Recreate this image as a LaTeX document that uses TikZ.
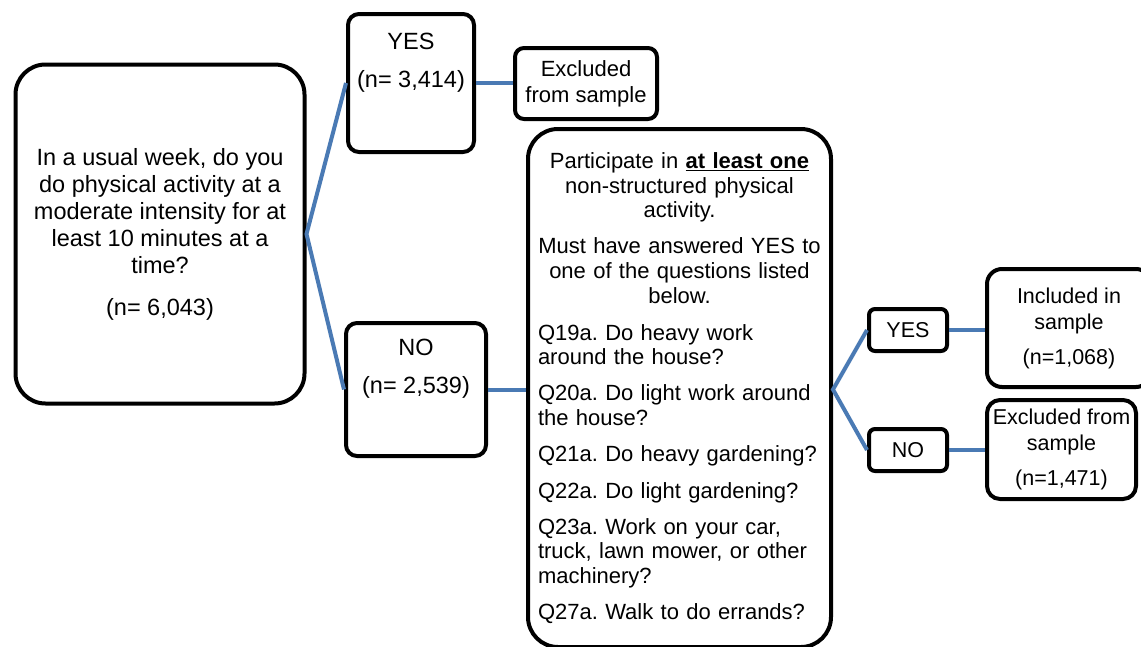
\documentclass[tikz,border=0pt]{standalone}
\usepackage{fontspec}
\setmainfont{Liberation Sans}
\frenchspacing
\definecolor{linkblue}{RGB}{74,122,180}
\begin{document}
\begin{tikzpicture}[x=1pt,y=1pt,
  box/.style={draw=black, line width=4pt, fill=white, align=center, inner sep=0pt, text=black},
  conn/.style={draw=linkblue, line width=4pt},
  fmain/.style={font=\fontsize{23.5}{27}\selectfont},
  fmid/.style={font=\fontsize{22}{24.7}\selectfont},
  fsmall/.style={font=\fontsize{21.5}{26}\selectfont}]
\clip (0,0) rectangle (1141,-646);
\fill[white] (0,0) rectangle (1141,-646);

\node[box, fmain, rounded corners=30pt, minimum width=289pt, minimum height=339pt] (q) at (160,-234)
  {In a usual week, do you\\ do physical activity at a\\ moderate intensity for at\\ least 10 minutes at a\\ time?\\[15pt] (n= 6,043)};

\node[box, fmain, rounded corners=11pt, minimum width=126pt, minimum height=138pt] (yes1) at (411,-83)
  {YES\\[11pt](n= 3,414)\\[11pt]\strut};
\node[box, fmain, rounded corners=11pt, minimum width=140pt, minimum height=133pt] (no1) at (416,-389.5)
  {NO\\[11pt](n= 2,539)\\[11pt]\strut};

\node[box, font=\fontsize{22}{26}\selectfont, rounded corners=9pt, minimum width=142pt, minimum height=71pt] (ex1) at (586,-83.5)
  {Excluded\\ from sample};

\node[box, fmid, rounded corners=30pt, minimum width=303pt, minimum height=518pt, text width=283pt, align=left] (mid) at (679.5,-388)
  {{\centering Participate in \underline{\textbf{at least one}}\\ non-structured physical\\ activity.\\[11.5pt]
   Must have answered YES to\\ one of the questions listed\\ below.\par}
   \vspace{12pt}
   {\raggedright Q19a. Do heavy work\\ around the house?\\[11.5pt]
   Q20a. Do light work around\\ the house?\\[11.5pt]
   Q21a. Do heavy gardening?\\[11.5pt]
   Q22a. Do light gardening?\\[11.5pt]
   Q23a. Work on your car,\\ truck, lawn mower, or other\\ machinery?\\[11pt]
   Q27a. Walk to do errands?\par}};

\node[box, fsmall, rounded corners=6pt, minimum width=78pt, minimum height=42pt] (yes2) at (908,-330) {YES};
\node[box, fsmall, rounded corners=6pt, minimum width=78pt, minimum height=42pt] (no2) at (908,-450) {NO};

\node[box, fsmall, rounded corners=15pt, minimum width=164pt, minimum height=118pt] (inc) at (1069,-328)
  {Included in\\ sample\\[9pt] (n=1,068)};
\node[box, fsmall, rounded corners=13pt, minimum width=149pt, minimum height=99pt] (ex2) at (1061.5,-449.5)
  {Excluded from\\ sample\\[9pt] (n=1,471)};

\coordinate (fork) at (mid.east |- no1.east);
\draw[conn] (yes1.west) -- (q.east) -- (no1.west);
\draw[conn] (yes1.east) -- (yes1.east -| ex1.west);
\draw[conn] (no1.east) -- (no1.east -| mid.west);
\draw[conn] (yes2.west) -- (fork) -- (no2.west);
\draw[conn] (yes2.east) -- (yes2.east -| inc.west);
\draw[conn] (no2.east) -- (no2.east -| ex2.west);
\end{tikzpicture}
\end{document}
